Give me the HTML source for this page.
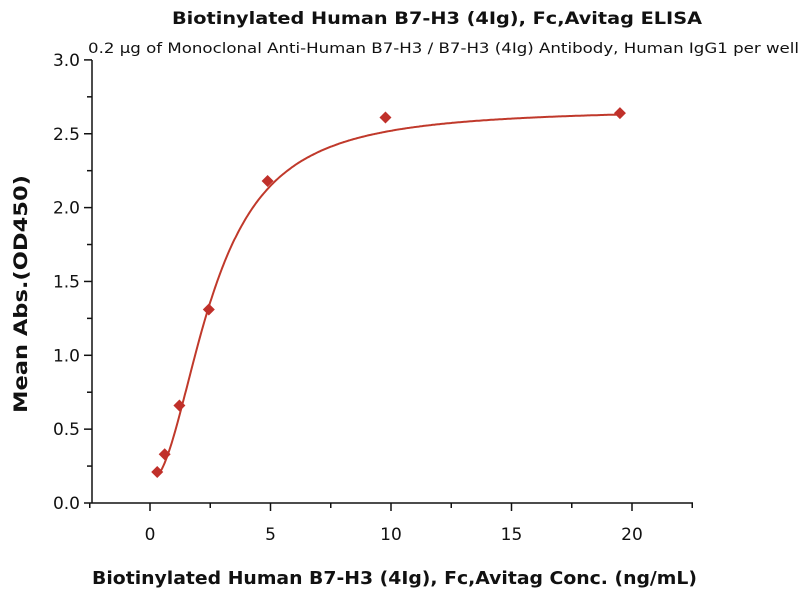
<!DOCTYPE html>
<html><head><meta charset="utf-8"><style>
body{margin:0;background:#fff;}
svg{display:block;font-family:"DejaVu Sans","Liberation Sans",sans-serif;}
</style></head><body>
<svg id="s" width="800" height="600" xmlns="http://www.w3.org/2000/svg">
<text x="172" y="24" textLength="530" lengthAdjust="spacingAndGlyphs" font-size="17" font-weight="bold" fill="#111">Biotinylated Human B7-H3 (4Ig), Fc,Avitag ELISA</text>
<text x="88" y="53" textLength="711" lengthAdjust="spacingAndGlyphs" font-size="14" fill="#111">0.2 μg of Monoclonal Anti-Human B7-H3 / B7-H3 (4Ig) Antibody, Human IgG1 per well</text>
<text x="92" y="584" textLength="605" lengthAdjust="spacingAndGlyphs" font-size="18" font-weight="bold" fill="#111">Biotinylated Human B7-H3 (4Ig), Fc,Avitag Conc. (ng/mL)</text>
<text transform="translate(27,413) rotate(-90)" textLength="238" lengthAdjust="spacingAndGlyphs" font-size="19" font-weight="bold" fill="#111">Mean Abs.(OD450)</text>
<g stroke="#111" stroke-width="1.5" fill="none">
<line x1="92" y1="60" x2="92" y2="503"/>
<line x1="92" y1="503" x2="693" y2="503"/>
</g>
<g id="ticks" stroke="#111" stroke-width="1.5"></g>
<g id="lbl" font-size="16" fill="#111"></g>
<path id="curve" fill="none" stroke="#c0392b" stroke-width="2"/>
<g id="pts" fill="#c0302a"></g>
</svg>
<script>
var X=function(v){return 150+v*24.1}, Y=function(v){return 503-v*147.7};
var t=document.getElementById('ticks'),l=document.getElementById('lbl'),h='';
for(var i=0;i<=12;i++){var v=i*0.25,y=Y(v),len=(i%2==0)?8:5;h+='<line x1="'+(92-len)+'" y1="'+y+'" x2="92" y2="'+y+'"/>';}
for(var v=-2.5;v<=22.5;v+=2.5){var x=X(v),len=(Math.round(v/2.5)%2==0)?8:5;h+='<line x1="'+x+'" y1="503" x2="'+x+'" y2="'+(503+len)+'"/>';}
t.innerHTML=h;h='';
for(var i=0;i<=6;i++){var v=i*0.5;h+='<text x="80" y="'+(Y(v)+6)+'" text-anchor="end" font-size="17">'+v.toFixed(1)+'</text>';}
for(var v=0;v<=20;v+=5){h+='<text x="'+X(v)+'" y="540" text-anchor="middle" font-size="17">'+v+'</text>';}
l.innerHTML=h;
var d='';for(var x=0.3;x<=19.51;x+=0.05){var y=0.15+2.52*(1-1/(1+Math.pow(x/2.6,2.05)));d+=(d?'L':'M')+X(x).toFixed(1)+' '+Y(y).toFixed(1);}
document.getElementById('curve').setAttribute('d',d);
var P=[[0.3,0.21],[0.61,0.33],[1.22,0.66],[2.44,1.31],[4.88,2.18],[9.77,2.61],[19.5,2.64]];h='';
P.forEach(function(p){var x=X(p[0]),y=Y(p[1]);h+='<polygon points="'+x+','+(y-6)+' '+(x+6)+','+y+' '+x+','+(y+6)+' '+(x-6)+','+y+'"/>';});
document.getElementById('pts').innerHTML=h;
</script>
</body></html>
